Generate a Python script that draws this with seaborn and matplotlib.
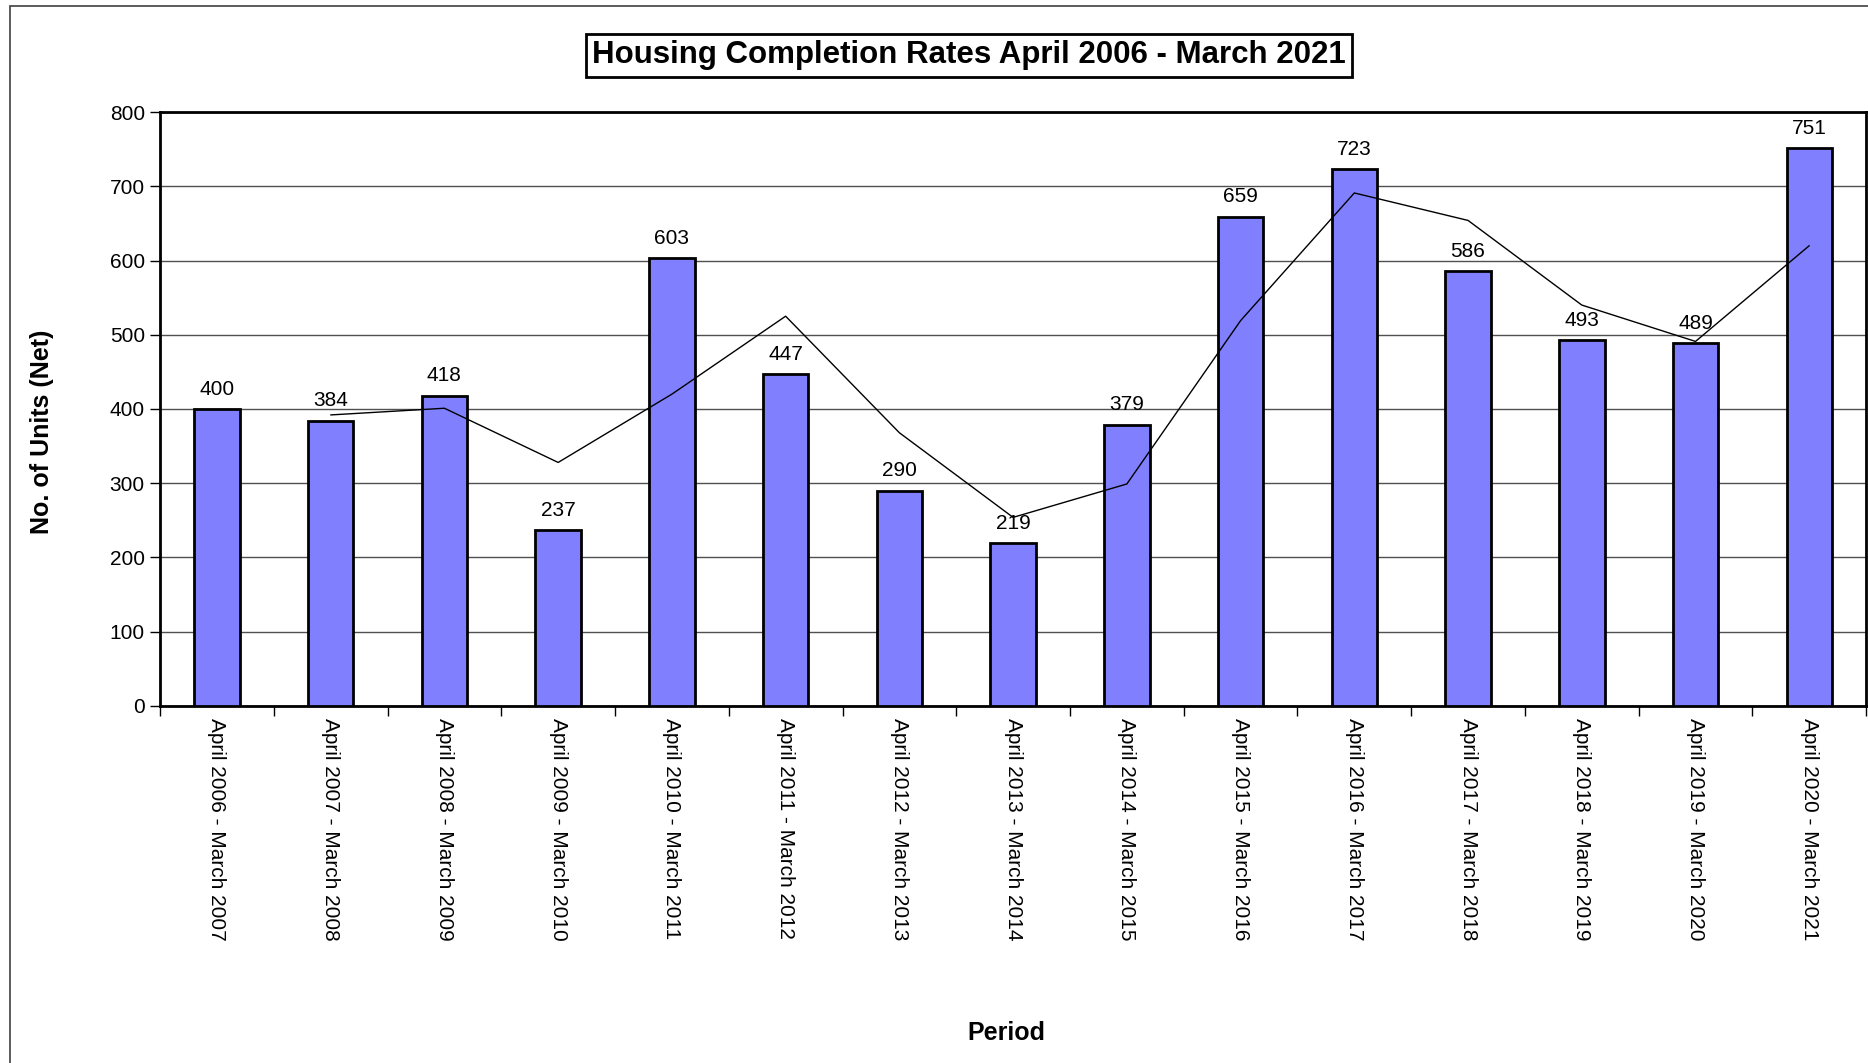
import numpy as np
import pandas as pd
import matplotlib
matplotlib.use("Agg")
import matplotlib.pyplot as plt
from matplotlib.patches import Rectangle
import seaborn as sns

# ---- data ----
periods = [
    "April 2006 - March 2007", "April 2007 - March 2008", "April 2008 - March 2009",
    "April 2009 - March 2010", "April 2010 - March 2011", "April 2011 - March 2012",
    "April 2012 - March 2013", "April 2013 - March 2014", "April 2014 - March 2015",
    "April 2015 - March 2016", "April 2016 - March 2017", "April 2017 - March 2018",
    "April 2018 - March 2019", "April 2019 - March 2020", "April 2020 - March 2021",
]
units = [400, 384, 418, 237, 603, 447, 290, 219, 379, 659, 723, 586, 493, 489, 751]
# thin trend line (starts at the second period)
trend_idx = [1, 2, 3, 4, 5, 6, 7, 8, 9, 10, 11, 12, 13, 14]
trend_vals = [392, 401, 328, 420, 525, 368, 254, 299, 519, 691, 654, 540, 491, 620]
y_ticks = [0, 100, 200, 300, 400, 500, 600, 700, 800]

sns.set_style("white")
plt.rcParams['font.family'] = ['Liberation Sans', 'DejaVu Sans']
plt.rcParams.update({'text.color': 'black', 'axes.labelcolor': 'black',
                     'xtick.color': 'black', 'ytick.color': 'black'})

fig = plt.figure(figsize=(18.68, 10.63), dpi=100)
ax = fig.add_axes([0.0857, 0.3359, 0.9133, 0.5587])

df = pd.DataFrame({'period': periods, 'units': units})
sns.barplot(x='period', y='units', data=df, color='#8080FF', edgecolor='black',
            linewidth=2, width=0.4, saturation=1, ax=ax, zorder=3)
sns.lineplot(x=trend_idx, y=trend_vals, color='black', linewidth=1, ax=ax, zorder=4)

# value labels
for i, v in enumerate(units):
    ax.text(i, v + 14, str(v), ha='center', va='bottom', fontsize=15, zorder=5)

ax.set_xlim(-0.5, len(periods) - 0.5)
ax.set_ylim(0, 800)
ax.set_yticks(y_ticks)
ax.tick_params(axis='y', labelsize=15, length=7, width=1, direction='out', left=True, pad=4)
ax.yaxis.grid(True, color='#505050', linewidth=1, zorder=0)
ax.set_axisbelow(True)

# category labels at centres, tick marks at boundaries
ax.set_xticks(range(len(periods)))
ax.set_xticklabels(periods, rotation=270, ha='center', va='top', fontsize=15)
ax.tick_params(axis='x', which='major', length=0, pad=9)
ax.set_xticks(np.arange(-0.5, len(periods), 1.0), minor=True)
ax.tick_params(axis='x', which='minor', length=7, width=1, direction='out', bottom=True)

for s in ax.spines.values():
    s.set_visible(True)
    s.set_color('black')
    s.set_linewidth(2)

ax.set_xlabel('')
ax.set_ylabel('')

# title in a box
fig.text(0.5187, 0.948, 'Housing Completion Rates April 2006 - March 2021',
         ha='center', va='center', fontsize=22.5, fontweight='bold',
         bbox=dict(facecolor='white', edgecolor='black', linewidth=2, boxstyle='square,pad=0.2'))
fig.text(0.0225, 0.594, 'No. of Units (Net)', rotation=90, ha='center', va='center',
         fontsize=18, fontweight='bold')
fig.text(0.539, 0.028, 'Period', ha='center', va='center', fontsize=18, fontweight='bold')

# outer chart-area frame (right/bottom edges fall outside the image)
fig.patches.append(Rectangle((0.0055, -0.05), 1.2, 0.044 + 1.0, transform=fig.transFigure,
                             fill=False, edgecolor='#404040', linewidth=1.2))

fig.savefig('out.png', dpi=100)
